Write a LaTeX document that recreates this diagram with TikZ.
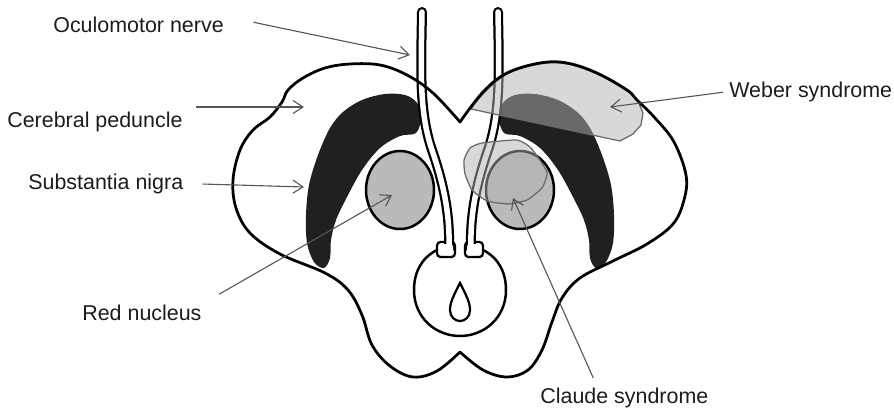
\documentclass[tikz,border=0pt]{standalone}
\usepackage{fontspec}
\setmainfont{Liberation Sans}
\usetikzlibrary{arrows.meta,calc}
\definecolor{nigradark}{RGB}{32,32,32}
\definecolor{nucleusgray}{RGB}{186,186,186}
\definecolor{lesiongray}{RGB}{178,178,178}
\definecolor{lesionedge}{RGB}{105,105,105}
\definecolor{pointergray}{RGB}{85,85,85}
\definecolor{labeltext}{RGB}{28,28,28}

\begin{document}
\begin{tikzpicture}[x=0.02cm, y=-0.02cm,
    outline/.style={draw=black, line width=0.055cm, line join=round},
    nucleus/.style={fill=nucleusgray, draw=black, line width=0.05cm},
    nerve/.style={draw=black, double=white, double distance=0.11cm, line width=0.045cm, line cap=round},
    foot/.style={draw=black, line width=0.045cm, rounded corners=2pt},
    lesion/.style={fill=lesiongray, fill opacity=0.5, draw=lesionedge, line width=0.025cm},
    pointer/.style={draw=pointergray, line width=0.022cm, -{Straight Barb[length=2mm, width=2.6mm]}},
    note/.style={anchor=base west, inner sep=0pt, text=labeltext, font=\fontsize{12.2}{14.6}\selectfont}
  ]
    \useasboundingbox (0,0) rectangle (894,410);

    % left half, mirrored about the midline for the right half
    \foreach \side in {1,-1} {
      \begin{scope}[shift={({460*(1-\side)},0)}, xscale=\side]
        \fill[nigradark] plot[smooth cycle, tension=0.55] coordinates {
          (421,118) (417,103) (405,95) (385,94) (362,100) (343,112) (330,128)
          (318,155) (309,185) (306,215) (307,243) (314,262) (324,268) (330,258)
          (331,240) (336,220) (347,197) (362,170) (380,148) (400,136) (416,133)};
        \draw[nucleus] (400,190) ellipse [x radius=34, y radius=39];
        \draw[foot] (437,242) rectangle (455,257);
        \draw[nerve] (422,12) .. controls (421,70) and (419,112) .. (432,150)
          .. controls (444,185) and (450,215) .. (449,249);
        \fill[white, rounded corners=1.5pt] (439,244) rectangle (453,255);
      \end{scope}
    }

    \draw[line width=0.05cm] (437,250) .. controls (421,258) and (414,273) .. (414,290)
      .. controls (414,318) and (436,336) .. (460,336)
      .. controls (484,336) and (506,318) .. (506,290)
      .. controls (506,273) and (499,258) .. (483,250);
    \draw[line width=0.045cm] (460,283) .. controls (454,295) and (450,302) .. (450,310)
      .. controls (450,317) and (455,321) .. (460,321)
      .. controls (465,321) and (470,317) .. (470,310)
      .. controls (470,302) and (466,295) .. (460,283) -- cycle;

    % lesions
    \draw[lesion] plot[smooth, tension=0.6] coordinates {
        (471,109) (484,93) (507,74) (540,64) (567,64) (597,74) (627,91) (638,101)}
      -- (643,113) -- (641,125) -- (633,134) -- (620,141) -- cycle;
    \draw[lesion] plot[smooth cycle, tension=0.3] coordinates {
      (464,160) (470,148) (482,143) (517,140) (531,148) (547,172) (542,188)
      (527,200) (509,204) (487,201) (472,190) (465,174)};

    \draw[outline] plot[smooth, tension=0.6] coordinates {
        (460,122) (433,93) (407,75) (380,65) (350,64) (325,68) (303,78) (288,90)
        (282,102) (270,117) (253,130) (240,150) (233,180) (236,208) (250,233)
        (280,254) (325,273) (348,290) (362,315) (372,345) (390,366) (413,377)
        (437,371) (460,352)}
      -- plot[smooth, tension=0.6] coordinates {
        (460,352) (483,370) (507,377) (528,370) (542,350) (552,322) (562,298)
        (580,278) (613,261) (647,244) (673,224) (684,200) (686,175) (674,142)
        (655,118) (637,100) (627,90) (597,73) (567,63) (540,63) (507,73)
        (483,92) (460,122)} -- cycle;

    \coordinate (octip) at (410,55);
    \coordinate (pedtip) at (304,107);
    \coordinate (nigratip) at (304,187);
    \coordinate (rntip) at (392,195);
    \coordinate (webtip) at (610,107);
    \coordinate (cltip) at (513,198);

    \node[note] (ocnerve) at (53,32) {Oculomotor nerve};
    \node[note] (pedlabel) at (7,127) {Cerebral peduncle};
    \node[note] (nigralabel) at (28,189) {Substantia nigra};
    \node[note] (rnlabel) at (82,320) {Red nucleus};
    \node[note] (weblabel) at (729,97) {Weber syndrome};
    \node[note] (cllabel) at (540,403) {Claude syndrome};

    \draw[pointer, shorten <=0.6cm] (ocnerve.north east) -- (octip);
    \draw[pointer, shorten <=0.26cm] (pedlabel.east |- pedtip) -- (pedtip);
    \draw[pointer, shorten <=0.38cm] (nigralabel.east) -- (nigratip);
    \draw[pointer, shorten <=0.4cm] (rnlabel.north east) -- (rntip);
    \draw[pointer, shorten <=0.12cm] (weblabel.west) -- (webtip);
    \draw[pointer, shorten <=0.2cm] ($(cllabel.north west)!0.34!(cllabel.north east)$) -- (cltip);
  \end{tikzpicture}
\end{document}
